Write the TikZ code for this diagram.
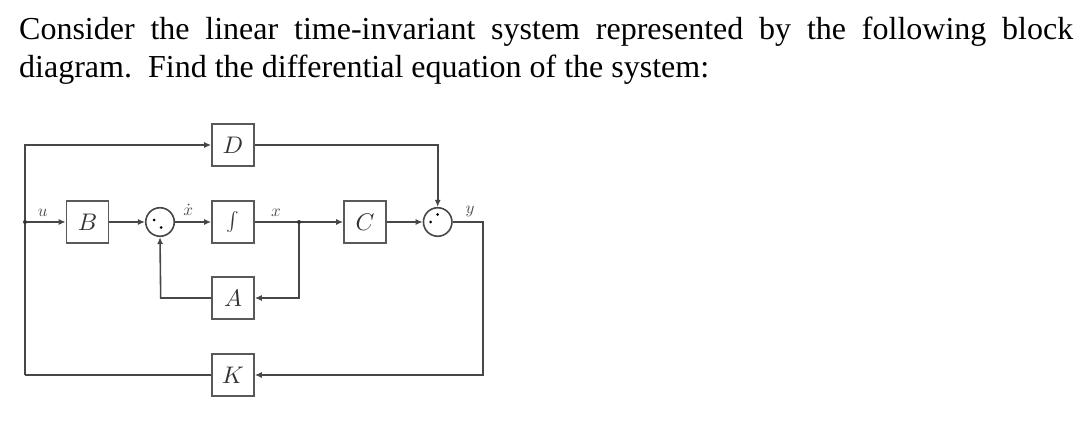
\documentclass[tikz,border=0pt]{standalone}
\usepackage{fontspec}
\setmainfont{Liberation Serif}
\usetikzlibrary{arrows.meta,calc}
\newcommand{\blab}[1]{\scalebox{2.4}{$#1$}}
\newcommand{\slab}[1]{\scalebox{1.7}{$#1$}}
\begin{document}
\begin{tikzpicture}[x=1pt,y=-1pt,
  ln/.style={draw=black!72,line width=1.6pt},
  arr/.style={ln,-{Latex[length=7pt,width=6pt]}},
  blk/.style={draw=black!65,line width=1.6pt,minimum width=42pt,minimum height=42pt,inner sep=0pt,
    text=black!80},
  sumc/.style={draw=black!72,line width=1.6pt,circle,minimum size=28.5pt,inner sep=0pt},
  sig/.style={inner sep=0pt,text=black!70},
  jdot/.style={fill=black!80,circle,inner sep=0pt,minimum size=4pt},
  sdot/.style={fill=black,circle,inner sep=0pt,minimum size=3pt}]
\useasboundingbox (0,0) rectangle (1086,422);
% question text
\node[anchor=base west,inner sep=0pt,font=\fontsize{32}{38}\selectfont] (q1) at (19,39.5)
  {\makebox[1054pt][s]{Consider the linear time-invariant system represented by the following block}};
\node[anchor=base west,inner sep=0pt,font=\fontsize{32}{38}\selectfont] (q2) at (19,78)
  {diagram.\ \ Find the differential equation of the system:};
% blocks
\node[blk] (D) at (233,145) {\blab{D}};
\node[blk] (B) at (87.5,222) {\blab{B}};
\node[blk] (I) at (233,222) {\scalebox{1.9}{$\int$}};
\node[blk] (A) at (233,298) {\blab{A}};
\node[blk] (C) at (365,222) {\blab{C}};
\node[blk] (K) at (233,375) {\blab{K}};
\node[sumc] (s1) at (160,222) {};
\node[sumc] (s2) at (437.7,222) {};
\node[sdot] (s1a) at ($(s1)+(-6,-2)$) {};
\node[sdot] (s1b) at ($(s1)+(1,5.5)$) {};
\node[sdot] (s2a) at ($(s2)+(-7,0)$) {};
\node[sdot] (s2b) at ($(s2)+(0,-7.5)$) {};
% coordinates
\coordinate (uj) at (25,222);
\coordinate (xj) at (299,222);
\coordinate (lt) at (25,145);
\coordinate (lb) at (25,375);
\coordinate (rt) at (437.7,145);
\coordinate (yc) at (483,222);
\coordinate (rb) at (483,375);
\coordinate (xa) at (299,298);
\coordinate (fa) at (160.7,298);
% connectors
\draw[arr] (uj) -- (B.west);
\draw[arr] (B.east) -- (s1.west);
\draw[arr] (s1.east) -- (I.west);
\draw[arr] (I.east) -- (C.west);
\draw[arr] (C.east) -- (s2.west);
\draw[arr] (xj) -- (xa) -- (A.east);
\draw[arr] (A.west) -- (fa) -- (s1.south);
\draw[arr] (lb) -- (lt) -- (D.west);
\draw[arr] (D.east) -- (rt) -- (s2.north);
\draw[arr] (s2.east) -- (yc) -- (rb) -- (K.east);
\draw[ln] (K.west) -- (lb);
\node[jdot] (ujd) at (uj) {};
\node[jdot] (xjd) at (xj) {};
% labels
\node[sig] (lu) at (42.7,213) {\slab{u}};
\node[sig] (lxd) at (188.3,210) {\slab{\dot x}};
\node[sig] (lx) at (276,213) {\slab{x}};
\node[sig] (ly) at (470,211) {\slab{y}};
\end{tikzpicture}
\end{document}
